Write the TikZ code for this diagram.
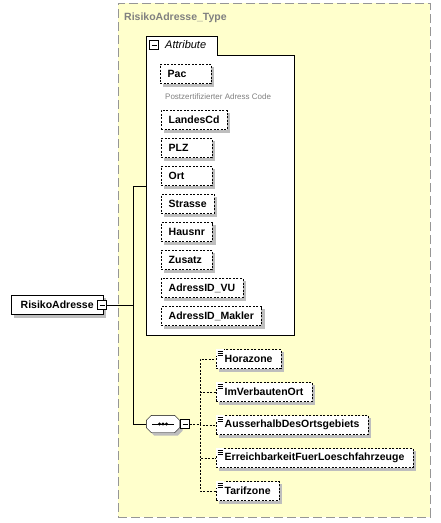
\documentclass[tikz,border=0pt]{standalone}
\usepackage{fontspec}
\setmainfont{Liberation Sans}

\definecolor{typefill}{RGB}{255,255,204}
\definecolor{typeline}{RGB}{150,150,150}
\definecolor{shadowgray}{RGB}{190,190,190}

\pgfdeclarelayer{back}
\pgfsetlayers{back,main}

% little "simple content" mark in the corner of an element
\newcommand{\simplemark}[1]{%
  \fill[white] ([shift={(-0.5,-0.5)}]#1.north west) rectangle +(8,7.5);
  \foreach \k in {2,4,6}
    \draw[line width=0.8pt] ([shift={(1.5,\k)}]#1.north west) -- +(5,0);}
% octagon of the sequence compositor, shifted by #2
\newcommand{\octo}[2]{([shift={(#2+5,#2)}]#1.north west) -- ([shift={(#2-5,#2)}]#1.north east) -- ([shift={(#2,#2+5)}]#1.north east)
  -- ([shift={(#2,#2-5)}]#1.south east) -- ([shift={(#2-5,#2)}]#1.south east) -- ([shift={(#2+5,#2)}]#1.south west)
  -- ([shift={(#2,#2-5)}]#1.south west) -- ([shift={(#2,#2+5)}]#1.north west) -- cycle}

\begin{document}
\begin{tikzpicture}[x=1pt, y=-1pt, line width=0.9pt]
\tikzstyle{elem}=[draw, fill=white, font=\fontsize{10.5}{12}\selectfont\bfseries, minimum height=19, inner xsep=7.5, inner ysep=0]
% short names stay left aligned in a box of at least 36pt text
\tikzstyle{attr}=[elem, dash pattern=on 2pt off 1.5pt, anchor=west,
  execute at begin node={\setbox0\hbox\bgroup}, execute at end node={\egroup\ifdim\wd0<36pt\wd0=36pt\fi\box0}]
\tikzstyle{child}=[elem, dash pattern=on 2pt off 1.5pt, anchor=west, inner xsep=8.5]
\tikzstyle{minus}=[draw, fill=white, minimum size=9, inner sep=0,
  path picture={\draw ([xshift=2]path picture bounding box.west) -- ([xshift=-2]path picture bounding box.east);}]
\tikzstyle{dlink}=[dash pattern=on 2pt off 1.5pt]
\useasboundingbox (0,0) rectangle (441,523);

% the complex type and its attribute group
\begin{pgfonlayer}{back}
\node[draw=typeline, fill=typefill, dash pattern=on 9pt off 4pt, minimum width=312, minimum height=514, anchor=north west] (type) at (118,3) {};
\draw[fill=white] (146,36) -- (217,36) -- (217,55) -- (294,55) -- (294,335) -- (146,335) -- cycle;
\end{pgfonlayer}
\node[anchor=west, inner sep=0, text=gray, font=\fontsize{10.5}{12}\selectfont\bfseries] (typename) at (124,18) {RisikoAdresse\_Type};

\coordinate (attrin) at (146,186);
\node[minus] (attrminus) at (154,45) {};
\node[anchor=west, inner sep=0, font=\fontsize{11}{12}\selectfont\itshape] (attrname) at (165,45) {Attribute};

\node[attr] (pac) at (160,74) {Pac};
\node[anchor=west, inner sep=0, text=gray, font=\fontsize{8}{9}\selectfont] (pacdoc) at (165,97) {Postzertifizierter Adress Code};
\node[attr] (landescd) at (161,120) {LandesCd};
\node[attr] (plz) at (161,148) {PLZ};
\node[attr] (ort) at (161,176) {Ort};
\node[attr] (strasse) at (161,204) {Strasse};
\node[attr] (hausnr) at (161,232) {Hausnr};
\node[attr] (zusatz) at (161,260) {Zusatz};
\node[attr] (adressvu) at (161,288) {AdressID\_VU};
\node[attr] (adressmakler) at (161,316) {AdressID\_Makler};

% the element itself
\node[elem, minimum width=92, anchor=west] (root) at (11,305) {RisikoAdresse};
\node[minus] (rootminus) at (102,305) {};
\coordinate (fork) at (133,305);

% sequence
\node[minimum width=33, minimum height=17, inner sep=0] (seq) at (163,424) {};
\draw[fill=white] \octo{seq}{0};
\draw ([xshift=6]seq.west) -- ([xshift=-6]seq.east);
\foreach \dx in {-3.5,0,3.5}
  \fill ([xshift=\dx]seq.center) circle (1.6pt);
\node[minus] (seqminus) at (185,424) {};
\coordinate (branch) at (200,424);

\draw (rootminus) -- (fork);
\draw (fork) |- (attrin);
\draw (fork) |- (seq);
\draw[dlink] (seqminus) -- (branch);

\node[child] (horazone) at (216,359) {Horazone};
\node[child] (imverbautenort) at (216,392) {ImVerbautenOrt};
\node[child] (ausserhalb) at (216,425) {AusserhalbDesOrtsgebiets};
\node[child] (erreichbarkeit) at (216,458) {ErreichbarkeitFuerLoeschfahrzeuge};
\node[child] (tarifzone) at (216,491) {Tarifzone};

\foreach \c in {horazone,imverbautenort,ausserhalb,erreichbarkeit,tarifzone}{
  \draw[dlink] (branch) |- (\c.west);
  \simplemark{\c}
}

% shadows
\begin{pgfonlayer}{back}
\foreach \n in {root,pac,landescd,plz,ort,strasse,hausnr,zusatz,adressvu,adressmakler,horazone,imverbautenort,ausserhalb,erreichbarkeit,tarifzone}
  \fill[shadowgray] ([shift={(3,3)}]\n.north west) rectangle ([shift={(3,3)}]\n.south east);
\fill[shadowgray] \octo{seq}{3};
\end{pgfonlayer}
\end{tikzpicture}
\end{document}
